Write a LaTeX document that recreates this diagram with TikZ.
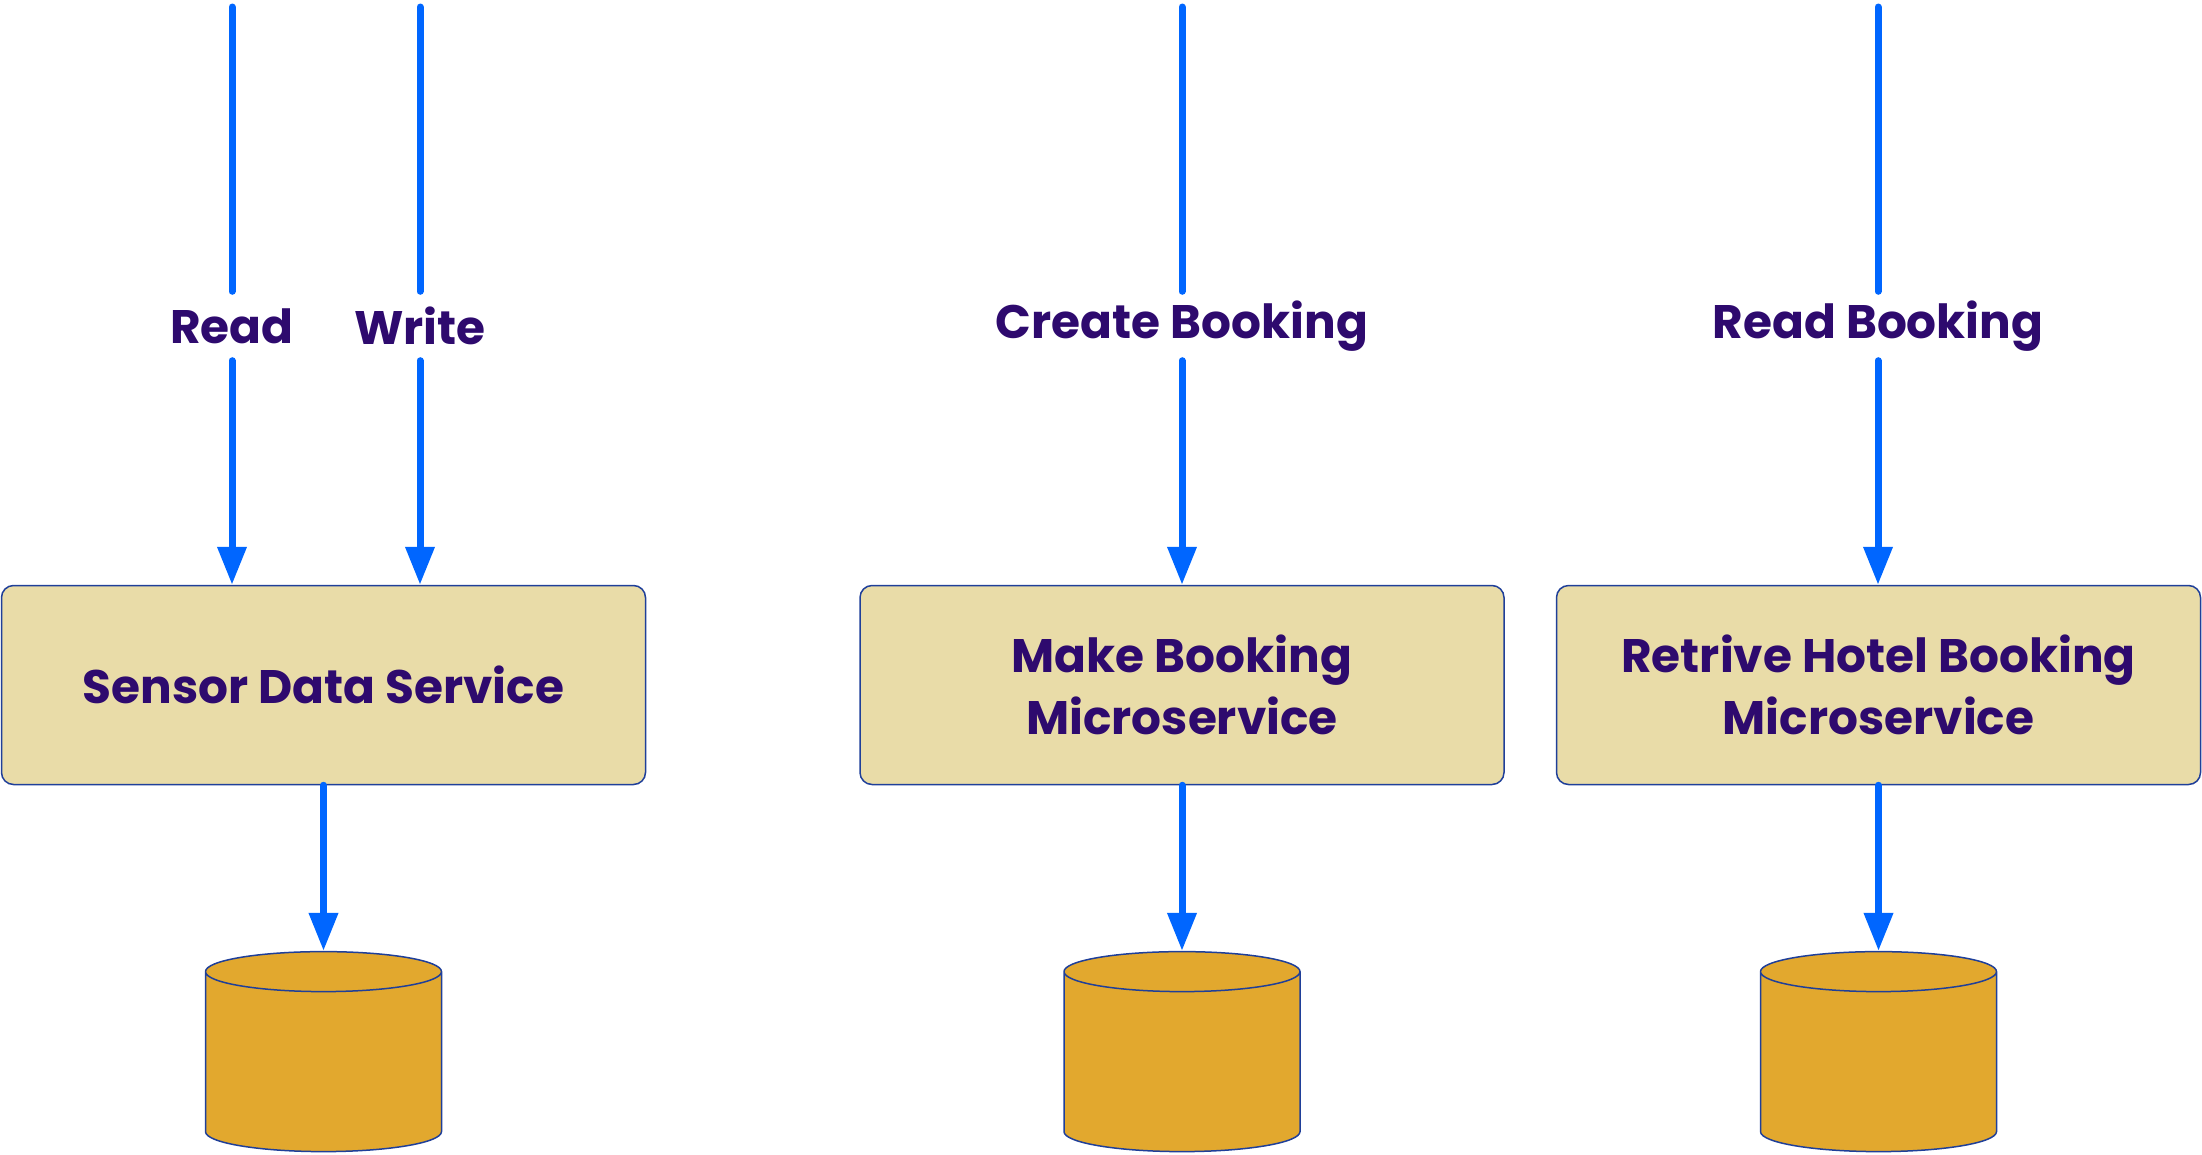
\documentclass[tikz,border=0pt]{standalone}
\usepackage{fontspec}
\setmainfont{Poppins}
\usetikzlibrary{arrows.meta,shapes.geometric}
\definecolor{boxfill}{HTML}{E9DCA8}
\definecolor{dbfill}{HTML}{E2A82E}
\definecolor{edge}{HTML}{1F3F99}
\definecolor{flowblue}{HTML}{0066FF}
\definecolor{ink}{HTML}{2E0A6E}

\begin{document}
\begin{tikzpicture}[x=1pt,y=-1pt,>={Triangle[length=38pt,width=28pt]},
  svc/.style={rectangle,rounded corners=12pt,draw=edge,line width=1.5pt,fill=boxfill,
    minimum width=644pt,minimum height=199pt,text=ink,align=center,
    font=\bfseries\fontsize{47}{62}\selectfont},
  db/.style={cylinder,shape border rotate=90,draw=edge,line width=1.5pt,fill=dbfill,
    inner sep=10pt,minimum width=236pt,minimum height=200pt,aspect=2},
  lbl/.style={inner sep=0pt,minimum height=69pt,text=ink,font=\bfseries\fontsize{47}{56}\selectfont},
  flow/.style={draw=flowblue,line width=7pt,line cap=round}]
  \useasboundingbox (0,0) rectangle (2202,1154);
  % services
  \node[svc] (sds) at (323.5,685) {Sensor Data Service};
  \node[svc] (mbm) at (1182,685) {Make Booking\\Microservice};
  \node[svc] (rhb) at (1878.5,685) {Retrive Hotel Booking\\Microservice};
  % databases
  \node[db] (db1) at (323.5,1066) {};
  \node[db] (db2) at (1182,1066) {};
  \node[db] (db3) at (1878.5,1066) {};
  % request labels
  \node[lbl] (rd) at (232,326) {Read};
  \node[lbl] (wr) at (420,326) {Write};
  \node[lbl] (cb) at (1182,326) {Create Booking};
  \node[lbl] (rb) at (1878,326) {Read Booking};
  \coordinate (rd-top) at (232,7);
  \coordinate (wr-top) at (420,7);
  \coordinate (cb-top) at (1182,7);
  \coordinate (rb-top) at (1878,7);
  % incoming requests
  \foreach \l/\s in {rd/sds,wr/sds,cb/mbm,rb/rhb}{
    \draw[flow] (\l-top) -- (\l);
    \draw[flow,->] (\l) -- (\l |- \s.north);
  }
  % storage
  \draw[flow,->] (sds) -- (db1);
  \draw[flow,->] (mbm) -- (db2);
  \draw[flow,->] (rhb) -- (db3);
\end{tikzpicture}
\end{document}
